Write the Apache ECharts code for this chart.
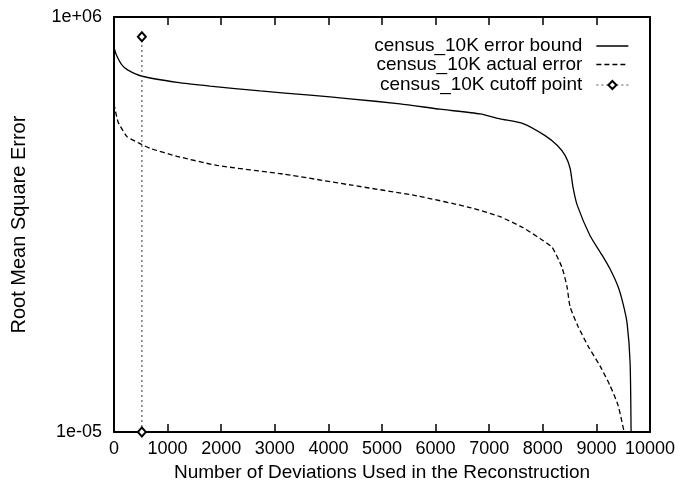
<!DOCTYPE html>
<html>
<head>
<meta charset="utf-8">
<script src="https://cdn.jsdelivr.net/npm/echarts@6/dist/echarts.min.js"></script>
<style>html,body{margin:0;padding:0;background:#fff;}#c{width:679px;height:487px;}</style>
</head>
<body>
<div id="c"></div>
<script>
const xTicks = [0,1000,2000,3000,4000,5000,6000,7000,8000,9000,10000];
const boundX = [0,43,143,261,522,1176,1791,2724,3657,4404,5337,6083,6830,7203,7632,8043,8267,8416,8509,8565,8640,8882,9106,9255,9405,9498,9573,9629,9647];
const boundY = [1.55e5,1.0e5,5.5e4,3.9e4,2.69e4,1.86e4,1.48e4,1.10e4,8.5e3,6.8e3,5.0e3,3.6e3,2.7e3,2.0e3,1.5e3,720,400,215,98,30,10.5,1.6,0.49,0.21,0.071,0.025,0.0076,6.8e-4,1e-5];
const actualX = [0,19,75,112,243,522,672,1176,1922,3153,4404,5654,6643,7203,7632,7948,8172,8358,8452,8509,8658,8845,9069,9255,9405,9517];
const actualY = [5.0e3,3.6e3,1.66e3,1.32e3,676,417,331,204,117,69,35.5,18.2,8.9,5.1,2.6,1.35,0.79,0.23,0.071,0.021,0.0063,0.0019,5.6e-4,1.7e-4,5.1e-5,1e-5];
const cutoffX = [520,520];
const cutoffY = [1e-5,3e5];
const names = ['census_10K error bound','census_10K actual error','census_10K cutoff point'];

const pairs = (xs, ys) => xs.map((x, i) => [x, ys[i]]);
const FONT = 'Liberation Sans';
const FS = 18;
const FT = 19;

const chart = echarts.init(document.getElementById('c'), null, {renderer: 'canvas'});
const legendTops = [36.5, 55, 75.5];
const legendH = [14, 14, 10];
const legendLine = [
  {color: '#000', width: 1.3, type: 'solid'},
  {color: '#000', width: 1.3, type: [5, 3]},
  {color: '#555', width: 1.2, type: [2, 3]}
];
chart.setOption({
  animation: false,
  backgroundColor: '#fff',
  textStyle: {fontFamily: FONT, color: '#000'},
  grid: {left: 114, right: 29, top: 17, bottom: 50, containLabel: false},
  legend: names.map((n, i) => ({
    data: [n], right: 50, top: legendTops[i], orient: 'vertical', align: 'right',
    padding: 0, itemWidth: 32, itemHeight: legendH[i], selectedMode: false,
    lineStyle: legendLine[i],
    itemStyle: i < 2 ? {opacity: 0} : {color: '#000', borderColor: '#000', borderWidth: 0.9},
    textStyle: {fontFamily: FONT, fontSize: FT, color: '#000', padding: [0, 9, 0, 0]}
  })),
  xAxis: [{
    type: 'value', min: 0, max: 10000, interval: 1000, position: 'bottom',
    name: 'Number of Deviations Used in the Reconstruction', nameLocation: 'middle', nameGap: 27,
    nameTextStyle: {fontFamily: FONT, fontSize: FT, color: '#000'},
    axisLine: {show: true, onZero: false, lineStyle: {color: '#000', width: 2}},
    axisTick: {show: true, inside: true, length: 8, lineStyle: {color: '#000', width: 1.5}},
    axisLabel: {fontFamily: FONT, fontSize: FS, color: '#000', margin: 8,
      formatter: v => xTicks.includes(v) ? String(v) : ''},
    splitLine: {show: false}
  }, {
    type: 'value', min: 0, max: 10000, interval: 1000, position: 'top',
    axisLine: {show: true, onZero: false, lineStyle: {color: '#000', width: 2}},
    axisTick: {show: true, inside: true, length: 8, lineStyle: {color: '#000', width: 1.5}},
    axisLabel: {show: false}, splitLine: {show: false}
  }],
  yAxis: [{
    type: 'log', logBase: 10, min: 1e-5, max: 1e6, interval: 1, position: 'left',
    name: 'Root Mean Square Error', nameLocation: 'middle', nameGap: 85, nameRotate: 90,
    nameTextStyle: {fontFamily: FONT, fontSize: 20, color: '#000'},
    axisLine: {show: true, onZero: false, lineStyle: {color: '#000', width: 2}},
    axisTick: {show: false},
    axisLabel: {fontFamily: FONT, fontSize: FS, color: '#000', margin: 12,
      showMinLabel: true, showMaxLabel: true,
      formatter: v => {
        if (Math.abs(Math.log10(v) - 6) < 1e-6) return '1e+06';
        if (Math.abs(Math.log10(v) + 5) < 1e-6) return '1e-05';
        return '';
      }},
    splitLine: {show: false}
  }, {
    type: 'log', logBase: 10, min: 1e-5, max: 1e6, interval: 1, position: 'right',
    axisLine: {show: true, onZero: false, lineStyle: {color: '#000', width: 2}},
    axisTick: {show: false}, axisLabel: {show: false}, splitLine: {show: false}
  }],
  series: [{
    name: names[0], type: 'line', data: pairs(boundX, boundY), smooth: 0.2,
    symbol: 'none', lineStyle: {color: '#000', width: 1.3, type: 'solid'},
    itemStyle: {color: '#000'}
  }, {
    name: names[1], type: 'line', data: pairs(actualX, actualY), smooth: 0.2,
    symbol: 'none', lineStyle: {color: '#000', width: 1.3, type: [5, 3]},
    itemStyle: {color: '#000'}
  }, {
    name: names[2], type: 'line', data: pairs(cutoffX, cutoffY), z: 3,
    symbol: 'emptyDiamond', symbolSize: [8, 9], showSymbol: true,
    lineStyle: {color: '#555', width: 1.2, type: [2, 3]},
    itemStyle: {color: '#000', borderColor: '#000', borderWidth: 0.9}
  }]
});
</script>
</body>
</html>
